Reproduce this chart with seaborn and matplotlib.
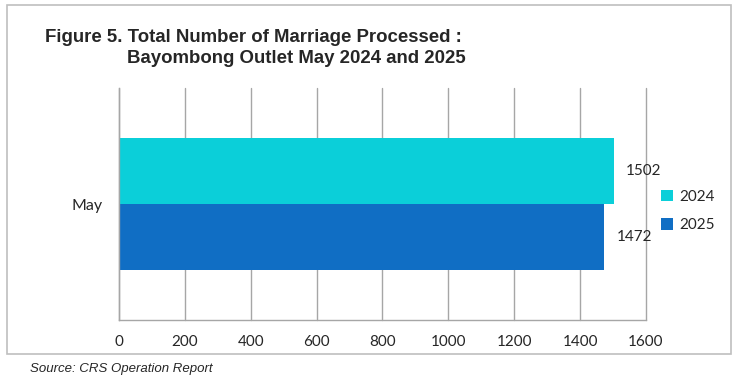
import matplotlib.pyplot as plt
import seaborn as sns
import pandas as pd
from matplotlib.patches import Rectangle

# data
meses = ["May"]
anos = ["2024", "2025"]
valores_2024 = [1502]
valores_2025 = [1472]
cores = ["#0BCFD9", "#106EC4"]
xticks = [0, 200, 400, 600, 800, 1000, 1200, 1400, 1600]

dados = pd.DataFrame({
    "mes": meses * 2,
    "ano": [anos[0]] * len(meses) + [anos[1]] * len(meses),
    "valor": valores_2024 + valores_2025,
})

sns.set_style("white")
plt.rcParams["font.family"] = ["Lato", "DejaVu Sans"]

fig = plt.figure(figsize=(7.38, 3.82), dpi=100)
ax = fig.add_axes([0.1612, 0.1623, 0.7141, 0.6073])

sns.barplot(
    data=dados, y="mes", x="valor", hue="ano", hue_order=anos,
    palette=cores, orient="h", width=0.57, saturation=1, ax=ax,
    edgecolor="none", linewidth=0,
)

ax.set_xlim(0, 1600)
ax.set_ylim(0.5, -0.5)
ax.set_xticks(xticks)
ax.set_xticklabels([str(t) for t in xticks], fontsize=11)
ax.set_xlabel("")
ax.set_ylabel("")
ax.set_axisbelow(True)
ax.grid(axis="x", color="#A6A6A6", linewidth=1)
ax.grid(axis="y", visible=False)
for g in ax.get_xgridlines():
    g.set_clip_on(False)

# y axis: label without tick, small ticks at category boundaries
ax.set_yticks([0])
ax.set_yticklabels(meses, fontsize=11.5)
ax.tick_params(axis="y", length=0, pad=12)
ax.set_yticks([-0.5, 0.5], minor=True)
ax.tick_params(axis="y", which="minor", length=5, color="#A6A6A6", width=1)
ax.tick_params(axis="x", length=5, color="#A6A6A6", width=1, pad=6, direction="out")

for s in ["top", "right"]:
    ax.spines[s].set_visible(False)
for s in ["left", "bottom"]:
    ax.spines[s].set_color("#A6A6A6")
    ax.spines[s].set_linewidth(1)

# rótulos
for cont in ax.containers:
    ax.bar_label(cont, fmt="%d", padding=9, fontsize=11)

leg = ax.legend(
    loc="center left", bbox_to_anchor=(1.0, 0.47), frameon=False,
    fontsize=11, handlelength=0.8, handleheight=0.8, handletextpad=0.4,
    labelspacing=0.95, borderaxespad=0.6,
)

# moldura
fig.patches.append(Rectangle((0.009, 0.072), 0.981, 0.915, transform=fig.transFigure,
                             fill=False, edgecolor="#BFBFBF", linewidth=1.2))

fonte_titulo = ["Liberation Sans Narrow", "Liberation Sans", "DejaVu Sans"]
fig.text(0.061, 0.903, "Figure 5. Total Number of Marriage Processed :",
         fontsize=13.4, fontweight="bold", va="center", family=fonte_titulo)
fig.text(0.172, 0.847, "Bayombong Outlet May 2024 and 2025",
         fontsize=13.4, fontweight="bold", va="center", family=fonte_titulo)
fig.text(0.040, 0.035, "Source: CRS Operation Report", fontsize=9.5,
         style="italic", va="center", family=fonte_titulo)

plt.savefig("out.png", dpi=100)
